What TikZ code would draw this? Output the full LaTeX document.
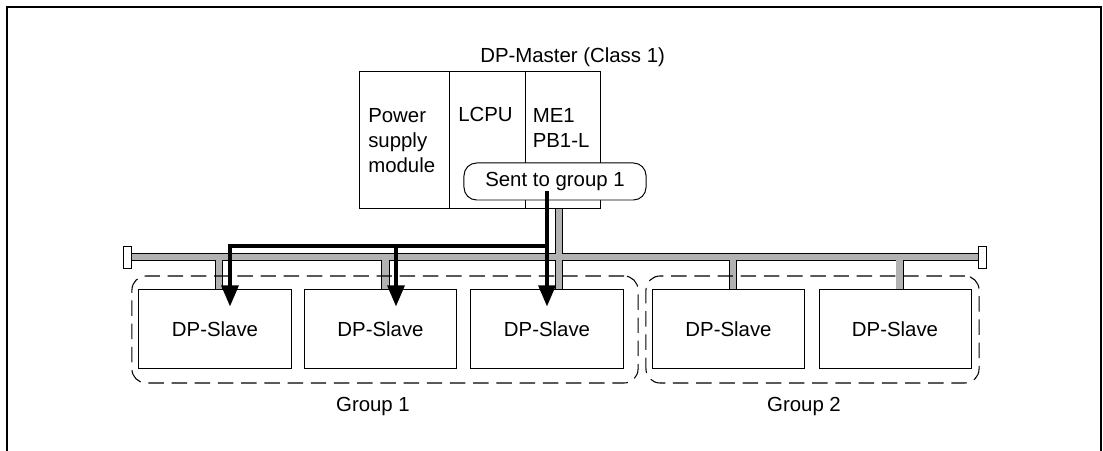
\documentclass[tikz,border=0pt]{standalone}
\usepackage{fontspec}
\setmainfont{Liberation Sans}
\usepackage{xcolor}
\usetikzlibrary{arrows.meta, positioning, calc}
\definecolor{busgray}{HTML}{B2B2B2}

\tikzset{
  txt/.style={inner sep=0pt, font=\fontsize{14.5}{18.1}\selectfont},
  slave/.style={txt, draw, line width=0.7pt, minimum width=3.8cm, minimum height=1.95cm},
  group/.style={draw, line width=0.75pt, dash pattern=on 11pt off 5.5pt, rounded corners=10pt,
    minimum height=2.675cm},
  sentbox/.style={txt, draw, fill=white, line width=0.7pt, rounded corners=9pt,
    minimum width=4.55cm, minimum height=0.925cm},
  buscap/.style={draw, fill=white, line width=0.7pt, minimum width=0.2cm, minimum height=0.55cm, inner sep=0pt},
  sig/.style={line width=2.5pt, -{Triangle[width=12pt,length=15pt]}}
}

\begin{document}
\begin{tikzpicture}[x=0.025cm, y=-0.025cm]
  \useasboundingbox (0,0) rectangle (1103,451);
  % frame
  \draw[line width=1.4pt] (7,470) -- (7,7) -- (1101,7) -- (1101,470);

  % master station
  \node[draw, line width=0.7pt, minimum width=6cm, minimum height=3.4cm, inner sep=0pt] (master) at (480,140) {};
  \draw[line width=0.7pt] (449,72) -- (449,208);
  \draw[line width=0.7pt] (525,72) -- (525,208);
  \node[txt, anchor=base west] (title) at (480,62.7) {DP-Master (Class 1)};
  % multi-line nodes: base is the last line
  \node[txt, anchor=base west, align=left] (psu) at (368,173) {Power\\supply\\module};
  \node[txt, anchor=base west] (lcpu) at (458,122) {LCPU};
  \node[txt, anchor=base west, align=left] (me1) at (532.5,147.5) {ME1\\PB1-L};

  % slaves
  \node[slave] (slave1) at (215,329) {DP-Slave};
  \node[slave] (slave2) at (380.5,329) {DP-Slave};
  \node[slave] (slave3) at (547,329) {DP-Slave};
  \node[slave] (slave4) at (728.5,329) {DP-Slave};
  \node[slave] (slave5) at (895,329) {DP-Slave};

  % bus with drops
  \coordinate (busL) at (131,257);
  \coordinate (busR) at (978,257);
  \coordinate (d1) at ($(slave1.north)+(4,0)$);
  \coordinate (d2) at ($(slave2.north)+(5,0)$);
  \coordinate (d3) at ($(slave3.north)+(12,0)$);
  \coordinate (d4) at ($(slave4.north)+(4.5,0)$);
  \coordinate (d5) at ($(slave5.north)+(4.5,0)$);
  \foreach \c/\w in {black/5.7pt, busgray/4.3pt}
    \draw[\c, line width=\w] (busL) -- (busR)
      (d1 |- busL) -- (d1)  (d2 |- busL) -- (d2)
      (d3 |- master.south) -- (d3)
      (d4 |- busL) -- (d4)  (d5 |- busL) -- (d5);
  \node[buscap] (capL) at (127,257) {};
  \node[buscap] (capR) at (982,257) {};

  % groups
  \node[group, minimum width=12.65cm] (group1) at (385,329.5) {};
  \node[group, minimum width=8.325cm] (group2) at (812.5,329.5) {};
  \node[txt] (g1) at (373,406) {Group 1};
  \node[txt] (g2) at (804,406) {Group 2};

  % message to group 1
  \node[sentbox] (sent) at (555,181.5) {Sent to group 1};
  \coordinate (feed) at ($(sent.south)+(-8,-9)$);
  \coordinate (split) at ($(feed)+(0,54.7)$);
  \coordinate (a1) at ($(slave1.north)+(15,17)$);
  \coordinate (a2) at ($(slave2.north)+(15.5,17)$);
  \coordinate (a3) at ($(slave3.north)+(0,17)$);
  \draw[sig] (feed) -- (a3);
  \draw[sig] (split) -| (a1);
  \draw[sig] (split -| a2) -- (a2);
\end{tikzpicture}
\end{document}
